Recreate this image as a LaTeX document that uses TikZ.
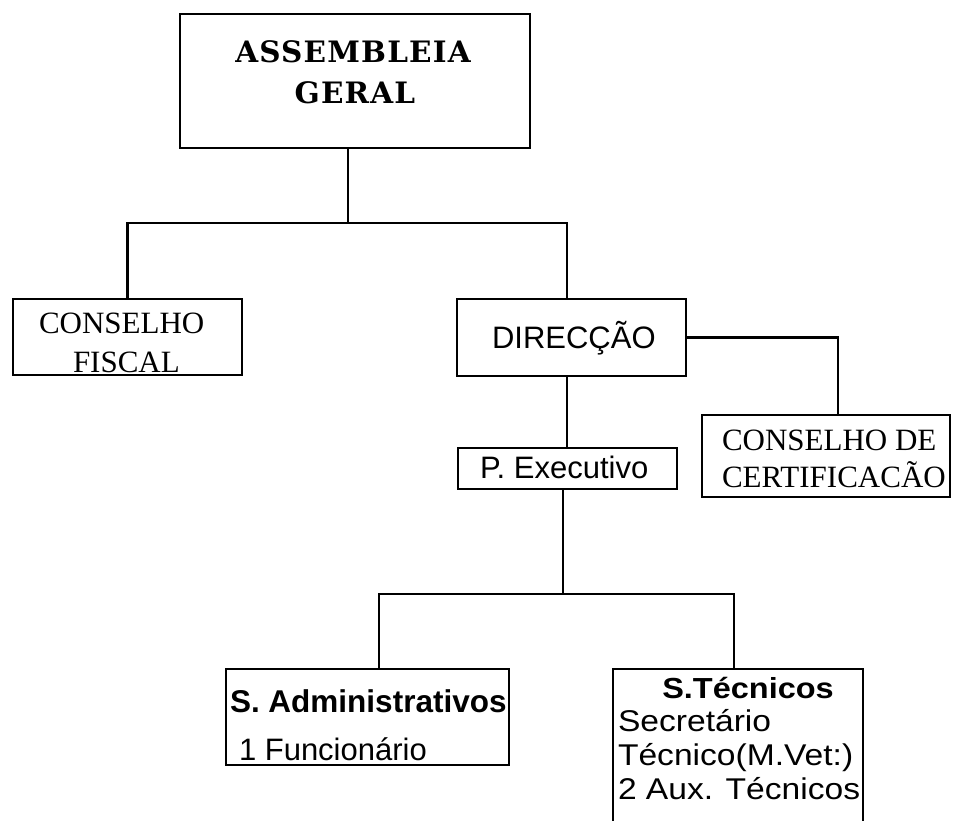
\documentclass[tikz,border=0pt]{standalone}
\usepackage{fontspec}
\setmainfont{Liberation Serif}
\setsansfont{Liberation Sans}
\newfontfamily\agfont[LetterSpace=4]{DejaVu Serif Bold}
\newfontfamily\stfont[FakeStretch=1.12]{Liberation Sans}
\begin{document}
\begin{tikzpicture}[x=1pt,y=-1pt,
  box/.style={draw, line width=2.8pt, inner sep=0pt, outer sep=0pt},
  conn/.style={line width=2.8pt},
  lbl/.style={inner sep=0pt, outer sep=0pt, anchor=base west},
  agtxt/.style={lbl, anchor=base, font={\agfont\fontsize{29.5}{32}\selectfont}},
  sertxt/.style={lbl, font={\rmfamily\fontsize{31}{33}\selectfont}},
  santxt/.style={lbl, font={\sffamily\fontsize{31}{33}\selectfont}},
  sttxt/.style={lbl, font={\stfont\fontsize{30}{32}\selectfont}}]
\clip (0,0) rectangle (953,820);
% boxes
\node[box, minimum width=350pt, minimum height=134pt] (AG) at (355,81) {};
\node[box, minimum width=229pt, minimum height=76pt] (CF) at (127.5,337) {};
\node[box, minimum width=229pt, minimum height=77pt] (DIR) at (571.5,337.5) {};
\node[box, minimum width=248pt, minimum height=82pt] (CDC) at (826,456) {};
\node[box, minimum width=219pt, minimum height=41pt] (PE) at (567.5,468.5) {};
\node[box, minimum width=283pt, minimum height=96pt] (SA) at (367.5,717) {};
\node[box, minimum width=250pt, minimum height=171pt] (ST) at (738,754.5) {};
% connectors
\coordinate (j1) at (348,223);
\coordinate (j2) at (563,594);
\draw[conn] (AG.south -| j1) -- (j1);
\draw[conn] (CF.north) |- (j1) -| ([xshift=-4.5pt]DIR.north);
\draw[conn] (DIR.east) -| ([xshift=12pt]CDC.north);
\draw[conn] ([xshift=-4.5pt]DIR.south) -- ([xshift=-0.5pt]PE.north);
\draw[conn] (PE.south -| j2) -- (j2);
\draw[conn] ([xshift=11.5pt]SA.north) |- (j2) -| ([xshift=-4pt]ST.north);
% texts
\node[agtxt] (t1) at (353,62) {ASSEMBLEIA};
\node[agtxt] (t2) at (355,103) {GERAL};
\node[sertxt] (t3) at (39,333) {CONSELHO};
\node[sertxt] (t4) at (73,372) {FISCAL};
\node[santxt] (t5) at (492,348) {DIRECÇÃO};
\node[sertxt] (t6) at (722,450) {CONSELHO DE};
\node[sertxt] (t7) at (722,487) {CERTIFICACÃO};
\node[santxt] (t8) at (480,478) {P. Executivo};
\node[lbl, font={\sffamily\bfseries\fontsize{31.5}{34}\selectfont}] (t9) at (230,712) {S. Administrativos};
\node[santxt] (t10) at (239,760) {1 Funcionário};
\node[lbl, anchor=base, font={\stfont\bfseries\fontsize{29}{32}\selectfont}] (t11) at (748,698) {S.Técnicos};
\node[sttxt] (t12) at (618,731) {Secretário};
\node[sttxt] (t13) at (618,765) {Técnico(M.Vet:)};
\node[sttxt] (t14) at (618,799) {2 Aux. Técnicos};
\end{tikzpicture}
\end{document}
